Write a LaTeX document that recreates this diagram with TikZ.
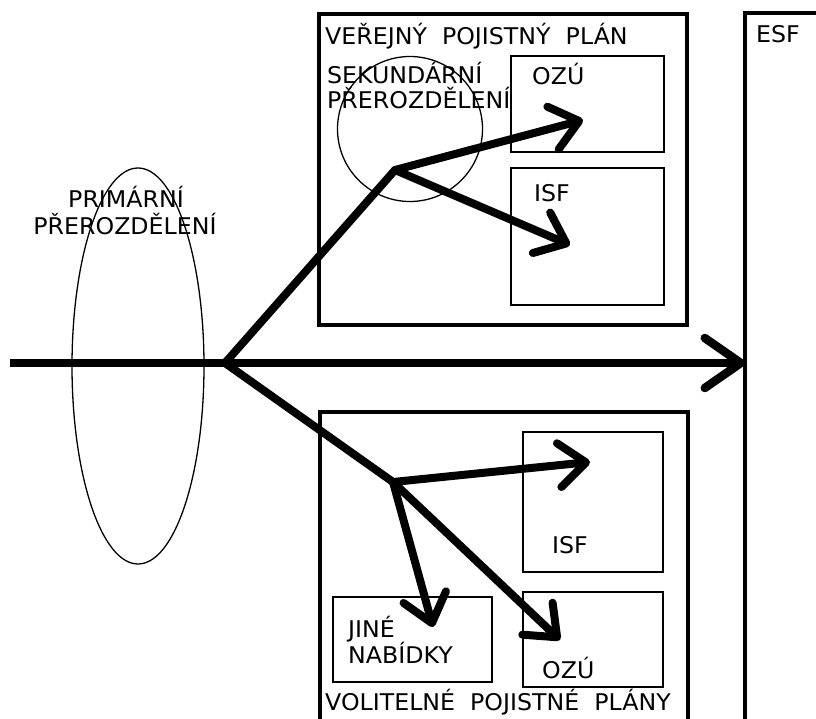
\documentclass[tikz,border=0pt]{standalone}
\usepackage{fontspec}
\setmainfont{DejaVu Sans}[WordSpace=2.0,FakeStretch=1.03]
\usetikzlibrary{arrows.meta,shapes.geometric}
\begin{document}
\begin{tikzpicture}[x=1pt,y=-1pt,
  lbl/.style={anchor=base west, inner sep=0pt, font=\fontsize{23}{27}\selectfont},
  clbl/.style={anchor=base, inner sep=0pt, font=\fontsize{23}{27}\selectfont},
  bigbox/.style={draw, line width=3.2pt, anchor=north west, inner sep=0pt, outer sep=0pt},
  smallbox/.style={draw, line width=1.8pt, anchor=north west, inner sep=0pt, outer sep=0pt},
  shaft/.style={line width=8pt, line cap=round, line join=round},
  flow/.style={shaft, -{Straight Barb[length=27pt,width=44pt,round]}},
  mainflow/.style={line width=8.5pt, -{Straight Barb[length=36pt,width=50pt,round]}},
  outline/.style={draw, line width=1.3pt, inner sep=0pt, outer sep=0pt}]
\useasboundingbox (0,0) rectangle (816,719);
\fill[white] (0,0) rectangle (816,719);
\clip (0,0) rectangle (816,719);

% ellipses
\node[outline, ellipse, minimum width=132pt, minimum height=396pt] (prim) at (138,366) {};
\node[outline, circle, minimum size=145pt] (sek) at (410,129) {};

% big boxes
\node[bigbox, minimum width=368pt, minimum height=311pt] (vpp) at (319,14) {};
\node[bigbox, minimum width=368pt, minimum height=360pt] (vol) at (320,412) {};
\node[bigbox, minimum width=120pt, minimum height=760pt] (esf) at (745,13) {};

% small boxes
\node[smallbox, minimum width=153pt, minimum height=96pt] (ozu1) at (511,56) {};
\node[smallbox, minimum width=153pt, minimum height=137pt] (isf1) at (511,168) {};
\node[smallbox, minimum width=140pt, minimum height=140pt] (isf2) at (523,432) {};
\node[smallbox, minimum width=140pt, minimum height=95pt] (ozu2) at (523,592) {};
\node[smallbox, minimum width=159pt, minimum height=85pt] (jine) at (333,597) {};

% labels
\node[lbl] (tvpp) at (325,45) {VEŘEJNÝ POJISTNÝ PLÁN};
\node[lbl] (tsek1) at (327,84) {SEKUNDÁRNÍ};
\node[lbl] (tsek2) at (327,109) {PŘEROZDĚLENÍ};
\node[lbl] (tozu1) at (532,85) {OZÚ};
\node[lbl] (tisf1) at (534,202) {ISF};
\node[lbl] (tesf) at (756,43) {ESF};
\node[clbl] (tprim1) at (126,208) {PRIMÁRNÍ};
\node[clbl] (tprim2) at (125,235) {PŘEROZDĚLENÍ};
\node[lbl] (tjine1) at (348,637) {JINÉ};
\node[lbl] (tjine2) at (348,663) {NABÍDKY};
\node[lbl] (tisf2) at (552,553) {ISF};
\node[lbl] (tozu2) at (542,678) {OZÚ};
\node[lbl] (tvol) at (325,710) {VOLITELNÉ POJISTNÉ PLÁNY};

% flow coordinates
\coordinate (in) at (10,363);
\coordinate (br) at (225,363);
\coordinate (esfin) at (745,363);
\coordinate (b1) at (395,170);
\coordinate (t1) at (583,120);
\coordinate (t2) at (570,245);
\coordinate (b2) at (393,482);
\coordinate (u1) at (590,462);
\coordinate (u2) at (433,627);
\coordinate (u3) at (560,640);

% connectors
\draw[mainflow] (in) -- (esfin);
\draw[shaft] (b1) -- (br) -- (b2);
\draw[flow] (b1) -- (t1);
\draw[flow] (b1) -- (t2);
\draw[flow] (b2) -- (u1);
\draw[flow] (b2) -- (u2);
\draw[flow] (b2) -- (u3);
\end{tikzpicture}
\end{document}
